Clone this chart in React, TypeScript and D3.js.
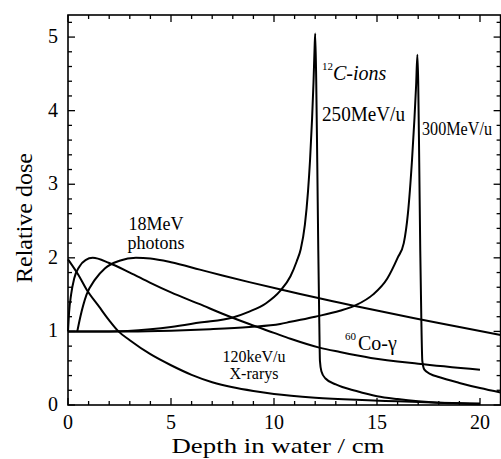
import * as d3 from "d3";

type Pt = [number, number];

// depth (cm), relative dose
const xrays120: Pt[] = [
  [0, 1.98], [0.5, 1.77], [0.9, 1.57], [1.5, 1.34], [2, 1.15], [2.45, 1.0], [3, 0.88],
  [4, 0.69], [5, 0.54], [6, 0.41], [7, 0.31], [8, 0.24], [9, 0.19], [10, 0.15],
  [12, 0.1], [14, 0.07], [16, 0.05], [18, 0.03], [20, 0.02],
];
const photons18: Pt[] = [
  [0.45, 1.0], [0.6, 1.2], [0.9, 1.5], [1.3, 1.7], [1.8, 1.86], [2.5, 1.96], [3.3, 2.0],
  [4, 1.99], [5, 1.94], [6.4, 1.84], [7.5, 1.76], [8.8, 1.67], [10.8, 1.54], [12.2, 1.45],
  [13.2, 1.39], [14.7, 1.3], [17, 1.17], [19, 1.06], [21, 0.95],
];
const co60: Pt[] = [
  [0, 1.0], [0.05, 1.25], [0.15, 1.5], [0.3, 1.72], [0.55, 1.88], [0.85, 1.97], [1.2, 2.0],
  [2, 1.93], [3, 1.8], [4, 1.66], [5, 1.53], [6.4, 1.37], [7.5, 1.24], [8.8, 1.1],
  [10, 0.98], [10.8, 0.9], [12.2, 0.78], [13.2, 0.72], [14.7, 0.64], [17, 0.56], [20, 0.48],
];
const carbon250: Pt[] = [
  [0, 1.0], [2, 1.0], [4, 1.03], [5, 1.06], [6.4, 1.12], [8, 1.19], [8.8, 1.27], [9.6, 1.38],
  [10.3, 1.55], [10.8, 1.75], [11.1, 1.95], [11.3, 2.12], [11.5, 2.45], [11.65, 2.9],
  [11.75, 3.33], [11.85, 3.9], [11.92, 4.4], [11.97, 4.85], [12.0, 5.05], [12.05, 4.4],
  [12.1, 3.3], [12.15, 2.1], [12.2, 1.1], [12.23, 0.6], [12.3, 0.46], [12.5, 0.36],
  [13, 0.28], [14, 0.19], [15, 0.12], [16, 0.08], [17, 0.05], [18, 0.03], [19, 0.02], [20, 0.01],
];
const carbon300: Pt[] = [
  [0, 1.0], [3, 1.0], [5, 1.01], [6.9, 1.03], [8.8, 1.06], [10.3, 1.1], [10.8, 1.13],
  [12, 1.2], [13.2, 1.28], [14, 1.36], [14.8, 1.5], [15.5, 1.72], [16, 2.0], [16.3, 2.2],
  [16.5, 2.6], [16.7, 3.33], [16.82, 3.9], [16.9, 4.35], [16.96, 4.76], [17.0, 4.4],
  [17.05, 3.3], [17.1, 2.1], [17.15, 1.2], [17.2, 0.6], [17.3, 0.48], [17.6, 0.42],
  [18, 0.38], [19, 0.3], [20, 0.23], [21, 0.17],
];

const series = [xrays120, photons18, co60, carbon250, carbon300];

const xMajor = [0, 5, 10, 15, 20];
const yMajor = [0, 1, 2, 3, 4, 5];

const W = 501;
const H = 459;
const FONT = "'Liberation Serif', 'Times New Roman', Times, serif";

export default function App() {
  const x = d3.scaleLinear().domain([0, 21]).range([68, 500.6]);
  const y = d3.scaleLinear().domain([0, 5.3]).range([405, 15]);

  const line = d3
    .line<Pt>()
    .x((d) => x(d[0]))
    .y((d) => y(d[1]))
    .curve(d3.curveMonotoneX);

  const x0 = x(0), x1 = x(21), y0 = y(0), y1 = y(5.3);
  const xMinor = d3.range(0, 21.01, 1).filter((v) => v % 5 !== 0);
  const yMinor = d3.range(0, 5.31, 0.2).filter((v) => Math.abs(v - Math.round(v)) > 0.01);

  return (
    <svg
      width={W}
      height={H}
      style={{ position: "absolute", left: 0, top: 0, background: "#fff" }}
      fontFamily={FONT}
    >
      {/* curves */}
      <g fill="none" stroke="#000" strokeWidth={2} strokeLinejoin="round">
        {series.map((s, i) => (
          <path key={i} d={line(s) ?? ""} />
        ))}
      </g>

      {/* frame */}
      <rect x={x0} y={y1} width={x1 - x0} height={y0 - y1} fill="none" stroke="#000" strokeWidth={1.6} />

      {/* ticks, pointing inward on all four sides */}
      <g stroke="#000" strokeWidth={1.3}>
        {xMajor.map((v) => (
          <g key={"xM" + v}>
            <line x1={x(v)} x2={x(v)} y1={y0} y2={y0 - 7} />
            <line x1={x(v)} x2={x(v)} y1={y1} y2={y1 + 7} />
          </g>
        ))}
        {xMinor.map((v) => (
          <g key={"xm" + v}>
            <line x1={x(v)} x2={x(v)} y1={y0} y2={y0 - 4} />
            <line x1={x(v)} x2={x(v)} y1={y1} y2={y1 + 4} />
          </g>
        ))}
        {yMajor.map((v) => (
          <g key={"yM" + v}>
            <line x1={x0} x2={x0 + 7} y1={y(v)} y2={y(v)} />
            <line x1={x1} x2={x1 - 7} y1={y(v)} y2={y(v)} />
          </g>
        ))}
        {yMinor.map((v) => (
          <g key={"ym" + v}>
            <line x1={x0} x2={x0 + 4} y1={y(v)} y2={y(v)} />
            <line x1={x1} x2={x1 - 4} y1={y(v)} y2={y(v)} />
          </g>
        ))}
      </g>

      {/* tick labels */}
      <g fontSize={20} fill="#000">
        {xMajor.map((v) => (
          <text key={"xl" + v} x={x(v)} y={429} textAnchor="middle">
            {v}
          </text>
        ))}
        {yMajor.map((v) => (
          <text key={"yl" + v} x={58} y={y(v) + 6} textAnchor="end">
            {v}
          </text>
        ))}
      </g>

      {/* axis titles */}
      <text x={278} y={453} fontSize={22} textAnchor="middle" textLength={213} lengthAdjust="spacingAndGlyphs">
        Depth in water / cm
      </text>
      <text transform="translate(32,218) rotate(-90)" fontSize={24} textAnchor="middle">
        Relative dose
      </text>

      {/* annotations */}
      <g fill="#000">
        <text x={156} y={230} fontSize={18} textAnchor="middle">18MeV</text>
        <text x={156} y={249} fontSize={18} textAnchor="middle">photons</text>

        <text x={322} y={70} fontSize={11}>12</text>
        <text x={333} y={80} fontSize={20} fontStyle="italic">C-ions</text>
        <text x={322} y={121} fontSize={20} textLength={83} lengthAdjust="spacingAndGlyphs">250MeV/u</text>
        <text x={422} y={135} fontSize={18} textLength={70} lengthAdjust="spacingAndGlyphs">300MeV/u</text>

        <text x={345} y={340} fontSize={11}>60</text>
        <text x={358} y={350} fontSize={20}>Co-γ</text>

        <text x={254} y={362} fontSize={16} textAnchor="middle">120keV/u</text>
        <text x={254} y={379} fontSize={16} textAnchor="middle">X-rarys</text>
      </g>
    </svg>
  );
}
